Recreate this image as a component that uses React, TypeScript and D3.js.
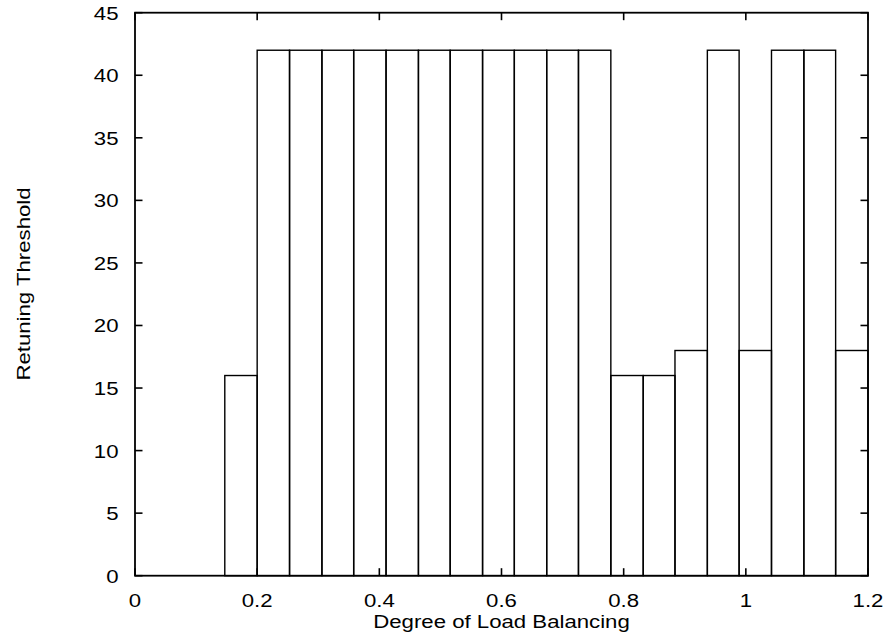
import React from "react";
import * as d3 from "d3";

// Bin boundaries along the load-balancing axis (20 bins)
const binEdges = [
  0.147, 0.2, 0.253, 0.306, 0.358, 0.411, 0.464, 0.516, 0.569, 0.621, 0.674,
  0.726, 0.779, 0.832, 0.884, 0.937, 0.989, 1.042, 1.095, 1.147, 1.2,
];
// Retuning threshold for each bin
const thresholds = [
  16, 42, 42, 42, 42, 42, 42, 42, 42, 42, 42, 42, 16, 16, 18, 42, 18, 42, 42, 18,
];
const xTicks = [0, 0.2, 0.4, 0.6, 0.8, 1, 1.2];
const yTicks = [0, 5, 10, 15, 20, 25, 30, 35, 40, 45];
const xTitle = "Degree of Load Balancing";
const yTitle = "Retuning Threshold";

const W = 887;
const H = 638;
const left = 135;
const right = 868;
const top = 12.7;
const bottom = 575.7;
const FONT = "'Liberation Sans', Arial, Helvetica, sans-serif";
const FS = 18.5;
const STRETCH = 1.2;

export default function App() {
  const x = d3.scaleLinear().domain([0, 1.2]).range([left, right]);
  const y = d3.scaleLinear().domain([0, 45]).range([bottom, top]);

  const bars = thresholds.map((v, i) => ({
    x0: binEdges[i],
    x1: binEdges[i + 1],
    v,
  }));

  const tickLen = 7.5;

  return (
    <svg
      width={W}
      height={H}
      style={{ position: "absolute", left: 0, top: 0, background: "#fff" }}
    >
      <rect x={0} y={0} width={W} height={H} fill="#fff" />
      {bars.map((b, i) => (
        <rect
          key={i}
          x={x(b.x0)}
          y={y(b.v)}
          width={x(b.x1) - x(b.x0)}
          height={y(0) - y(b.v)}
          fill="none"
          stroke="#000"
          strokeWidth={1.4}
        />
      ))}
      {/* frame */}
      <rect
        x={left}
        y={top}
        width={right - left}
        height={bottom - top}
        fill="none"
        stroke="#000"
        strokeWidth={1.8}
      />
      {/* x ticks, bottom and top */}
      {xTicks.map((t) => (
        <g key={"xt" + t}>
          <line x1={x(t)} x2={x(t)} y1={bottom} y2={bottom - tickLen} stroke="#000" strokeWidth={1.6} />
          <line x1={x(t)} x2={x(t)} y1={top} y2={top + tickLen} stroke="#000" strokeWidth={1.6} />
          <text
            transform={`translate(${x(t)},607) scale(${STRETCH},1)`}
            textAnchor="middle"
            fontFamily={FONT}
            fontSize={FS}
            fill="#000"
          >
            {String(t)}
          </text>
        </g>
      ))}
      {/* y ticks, left and right */}
      {yTicks.map((t) => (
        <g key={"yt" + t}>
          <line x1={left} x2={left + tickLen} y1={y(t)} y2={y(t)} stroke="#000" strokeWidth={1.6} />
          <line x1={right} x2={right - tickLen} y1={y(t)} y2={y(t)} stroke="#000" strokeWidth={1.6} />
          <text
            transform={`translate(118.5,${y(t) + 7}) scale(${STRETCH},1)`}
            textAnchor="end"
            fontFamily={FONT}
            fontSize={FS}
            fill="#000"
          >
            {String(t)}
          </text>
        </g>
      ))}
      <text
        transform={`translate(${(left + right) / 2},627.5) scale(${STRETCH},1)`}
        textAnchor="middle"
        fontFamily={FONT}
        fontSize={FS}
        fill="#000"
      >
        {xTitle}
      </text>
      <text
        transform={`translate(30,284) rotate(-90) scale(${STRETCH},1)`}
        textAnchor="middle"
        fontFamily={FONT}
        fontSize={FS}
        fill="#000"
      >
        {yTitle}
      </text>
    </svg>
  );
}
